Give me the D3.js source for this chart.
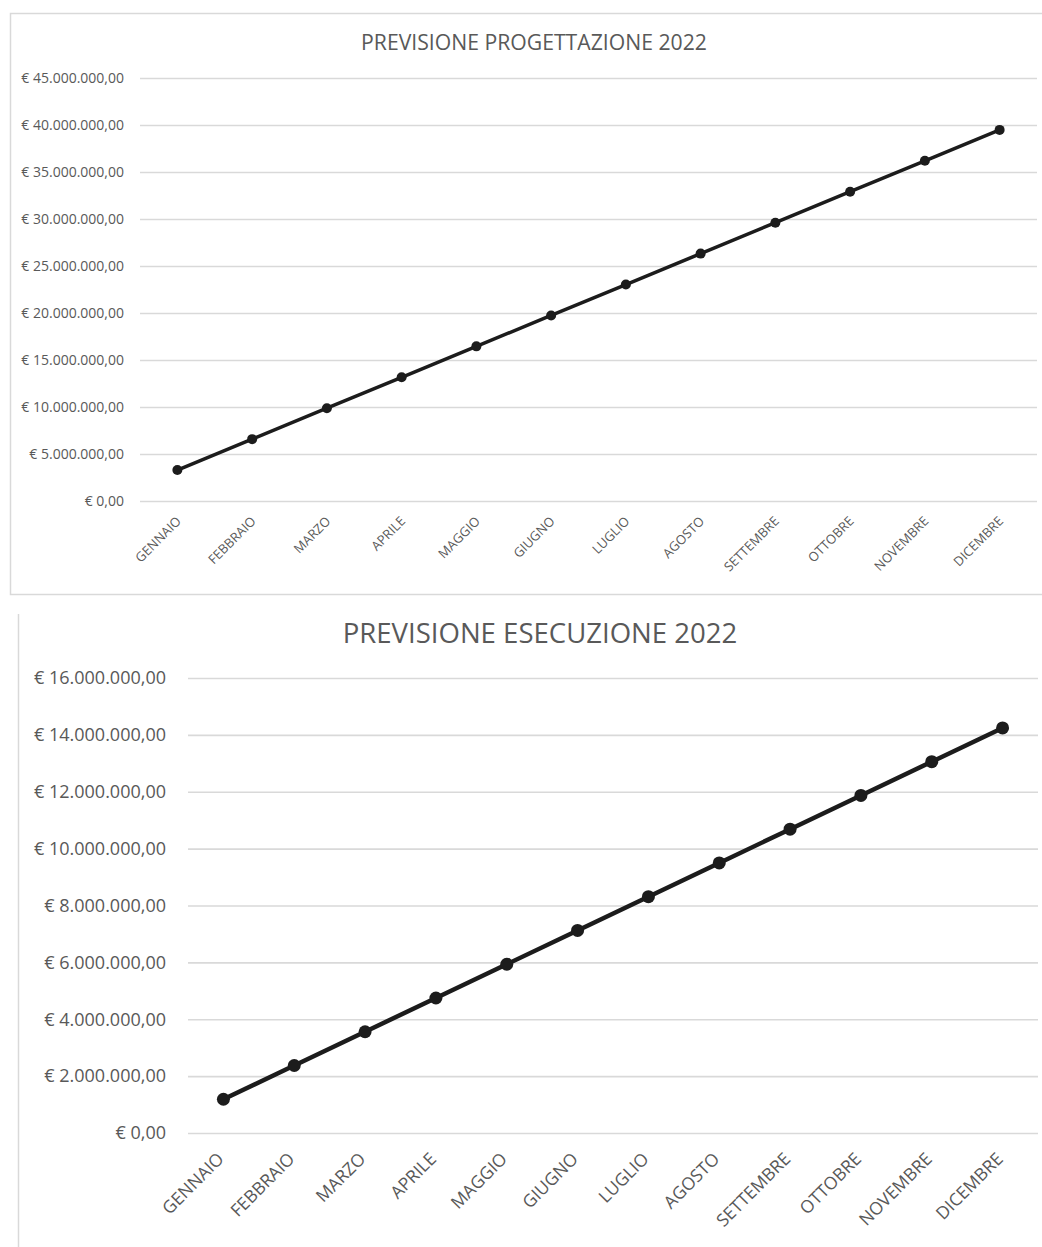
<!DOCTYPE html>
<html>
<head>
<meta charset="utf-8">
<script src="https://cdn.jsdelivr.net/npm/d3@7"></script>
<style>
  html, body { margin: 0; padding: 0; background: #fff; }
  svg { display: block; font-family: "Open Sans", "Noto Sans", sans-serif; }
</style>
</head>
<body>
<svg id="chart" width="1042" height="1247"></svg>
<script>
// Months on the horizontal axis
const months = ["GENNAIO", "FEBBRAIO", "MARZO", "APRILE", "MAGGIO", "GIUGNO",
                "LUGLIO", "AGOSTO", "SETTEMBRE", "OTTOBRE", "NOVEMBRE", "DICEMBRE"];

// Cumulative forecast, design (€)
const progettazione = [3290000, 6580000, 9870000, 13160000, 16450000, 19740000,
                       23030000, 26320000, 29610000, 32900000, 36190000, 39480000];
// Cumulative forecast, execution (€)
const esecuzione = [1187000, 2374000, 3561000, 4748000, 5935000, 7122000,
                    8309000, 9496000, 10683000, 11870000, 13057000, 14244000];

// Value-axis ticks
const ticksProgettazione = [0, 5e6, 10e6, 15e6, 20e6, 25e6, 30e6, 35e6, 40e6, 45e6];
const ticksEsecuzione = [0, 2e6, 4e6, 6e6, 8e6, 10e6, 12e6, 14e6, 16e6];

const titles = ["PREVISIONE PROGETTAZIONE 2022", "PREVISIONE ESECUZIONE 2022"];

// Italian euro formatting: € 45.000.000,00
const it = d3.formatLocale({ decimal: ",", thousands: ".", grouping: [3], currency: ["€ ", ""] });
const euro = it.format("$,.2f");

const svg = d3.select("#chart");
const textColor = "#595959";
const gridColor = "#d9d9d9";

// Chart frames
svg.append("rect").attr("x", 10.5).attr("y", 13.5).attr("width", 1040).attr("height", 581)
  .attr("fill", "none").attr("stroke", gridColor).attr("stroke-width", 1.5);
svg.append("line").attr("x1", 18.5).attr("x2", 18.5).attr("y1", 614).attr("y2", 1247)
  .attr("stroke", gridColor).attr("stroke-width", 1.5);

function drawChart(o) {
  const g = svg.append("g");
  const x = d3.scalePoint().domain(months).range([o.left, o.right]).padding(0.5);
  const y = d3.scaleLinear().domain([0, o.max]).range([o.bottom, o.top]);

  // title, sized to its box width
  const t = g.append("text").attr("x", o.titleX).attr("y", o.titleY)
    .attr("text-anchor", "middle").attr("fill", textColor)
    .style("font-size", "20px").text(o.title);
  const w = t.node().getComputedTextLength();
  t.style("font-size", (20 * o.titleW / w) + "px");

  // gridlines
  const yAxis = d3.axisLeft(y).tickValues(o.ticks).tickFormat(euro)
    .tickSize(-(o.right - o.left)).tickPadding(o.labelGap);
  const ya = g.append("g").attr("transform", `translate(${o.left},0)`).call(yAxis);
  ya.select(".domain").remove();
  ya.selectAll(".tick line").attr("stroke", gridColor).attr("stroke-width", o.gridW);
  ya.selectAll(".tick text").attr("fill", textColor)
    .style("font-size", o.yFont + "px").style("font-family", "'Open Sans', sans-serif");

  // month labels, slanted
  const xAxis = d3.axisBottom(x).tickSize(0).tickPadding(0);
  const xa = g.append("g").attr("transform", `translate(0,${o.bottom})`).call(xAxis);
  xa.select(".domain").remove();
  xa.selectAll(".tick text")
    .attr("fill", textColor)
    .style("font-size", o.xFont + "px").style("font-family", "'Open Sans', sans-serif")
    .attr("text-anchor", "end")
    .attr("y", 0).attr("dy", 0)
    .attr("transform", `translate(${o.xLabelDx},${o.xLabelDy}) rotate(-45)`);

  // series line and markers
  const data = months.map((m, i) => ({ m, v: o.values[i] }));
  const line = d3.line().x(d => x(d.m)).y(d => y(d.v));
  g.append("path").datum(data).attr("d", line)
    .attr("fill", "none").attr("stroke", "#1c1c1c").attr("stroke-width", o.lineW)
    .attr("stroke-linejoin", "round");
  g.selectAll("circle.pt").data(data).join("circle").attr("class", "pt")
    .attr("cx", d => x(d.m)).attr("cy", d => y(d.v)).attr("r", o.r)
    .attr("fill", "#1c1c1c");
}

drawChart({
  title: titles[0], titleX: 534, titleY: 50, titleW: 346,
  values: progettazione, ticks: ticksProgettazione, max: 45e6,
  left: 140, right: 1037, top: 78, bottom: 501,
  labelGap: 16, yFont: 14, xFont: 13, gridW: 1.3,
  xLabelDx: 4, xLabelDy: 21, lineW: 3.5, r: 5
});

drawChart({
  title: titles[1], titleX: 540, titleY: 643, titleW: 395,
  values: esecuzione, ticks: ticksEsecuzione, max: 16e6,
  left: 188, right: 1038, top: 678, bottom: 1133,
  labelGap: 22, yFont: 18, xFont: 17.5, gridW: 1.6,
  xLabelDx: 1, xLabelDy: 27, lineW: 4.5, r: 6.5
});
</script>
</body>
</html>
